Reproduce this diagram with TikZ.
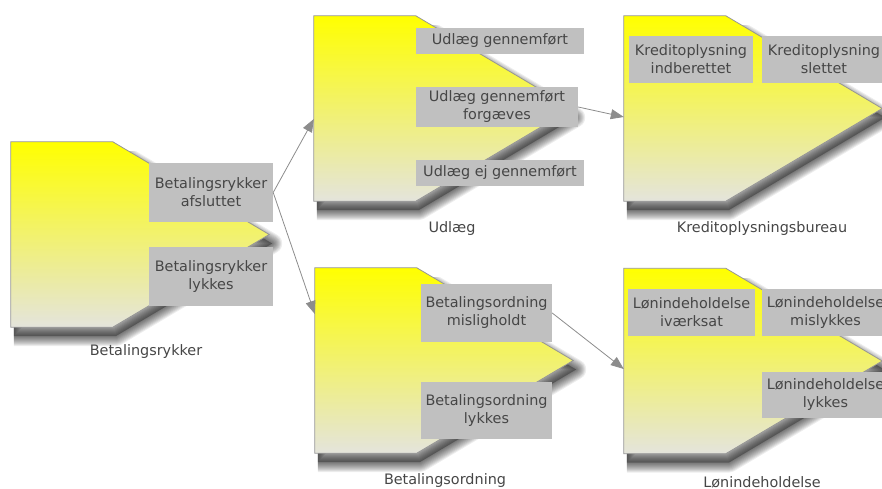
\documentclass[tikz,border=0pt]{standalone}
\usepackage{fontspec}
\setmainfont{DejaVu Sans}
\usetikzlibrary{arrows.meta}

\definecolor{boxgray}{RGB}{192,192,192}
\definecolor{txtgray}{RGB}{70,70,70}
\definecolor{edgegray}{RGB}{150,150,150}
\definecolor{linkgray}{RGB}{140,140,140}
\definecolor{paleend}{RGB}{228,228,220}

% outline of a stage: flat top and bottom, pointed right end
\newcommand\stageoutline[1]{(#1.north west) -- ([xshift=102pt]#1.north west) -- (#1.east) -- ([xshift=102pt]#1.south west) -- (#1.south west) -- cycle}

\begin{document}
\begin{tikzpicture}[x=1pt,y=-1pt,
  frame/.style={minimum width=258pt, minimum height=185pt, inner sep=0pt, draw=none},
  event/.style={fill=boxgray, text=txtgray, align=center, inner sep=0pt,
                font=\fontsize{14.4}{18}\selectfont},
  caption/.style={text=txtgray, font=\fontsize{14.4}{18}\selectfont},
  link/.style={draw=linkgray, line width=0.8pt, -{Triangle[length=13pt,width=10pt]}},
  stage/.style={top color=yellow, bottom color=paleend, draw=edgegray, line width=0.8pt},
]
\useasboundingbox (0,0) rectangle (882,489);
\clip (0,0) rectangle (882,489);

% frames carrying the names of the five stages
\node[frame] (rykker)  at (140,234.5) {};
\node[frame] (udlaeg)  at (443,108.5) {};
\node[frame] (kredit)  at (753,108.5) {};
\node[frame] (ordning) at (444,360.5) {};
\node[frame] (loen)    at (753,361)   {};

% soft drop shadows: one translucent fill plus many thin-stepped translucent
% strokes, kept below the top edge and right of the left edge of each stage
\foreach \n in {rykker,udlaeg,kredit,ordning,loen}{
  \begin{scope}
    \clip ([xshift=3pt,yshift=-10pt]\n.north west) rectangle ([xshift=30pt,yshift=-30pt]\n.south east);
    \begin{scope}[transform canvas={shift={(3pt,-9pt)}}]
      \fill[black, opacity=0.3] \stageoutline{\n};
      \foreach \w in {20,18,...,2}{
        \draw[black, opacity=0.07, line width=\w pt, line join=round] \stageoutline{\n};
      }
    \end{scope}
  \end{scope}
}

% stage bodies
\foreach \n in {rykker,udlaeg,kredit,ordning,loen}{
  \shadedraw[stage] \stageoutline{\n};
}

% events
\node[event, minimum width=124pt, minimum height=59pt] (r1) at (211,192.5) {Betalingsrykker\\afsluttet};
\node[event, minimum width=124pt, minimum height=59pt] (r2) at (211,276.5) {Betalingsrykker\\lykkes};

\node[event, minimum width=168pt, minimum height=26pt] (u1) at (500,41)  {Udlæg gennemført};
\node[event, minimum width=162pt, minimum height=40pt] (u2) at (497,107) {Udlæg gennemført\\forgæves};
\node[event, minimum width=168pt, minimum height=26pt] (u3) at (500,173) {Udlæg ej gennemført};

\node[event, minimum width=124pt, minimum height=47pt] (k1) at (691,59.5) {Kreditoplysning\\indberettet};
\node[event, minimum width=124pt, minimum height=47pt] (k2) at (824,59.5) {Kreditoplysning\\slettet};

\node[event, minimum width=131pt, minimum height=58pt] (o1) at (486.5,313)   {Betalingsordning\\misligholdt};
\node[event, minimum width=131pt, minimum height=57pt] (o2) at (486.5,410.5) {Betalingsordning\\lykkes};

\node[event, minimum width=127pt, minimum height=47pt] (l1) at (691.5,312.5) {Lønindeholdelse\\iværksat};
\node[event, minimum width=127pt, minimum height=47pt] (l2) at (825.5,312.5) {Lønindeholdelse\\mislykkes};
\node[event, minimum width=127pt, minimum height=46pt] (l3) at (825.5,395)   {Lønindeholdelse\\lykkes};

% stage captions
\node[caption] (rykker-cap)  at (146,352) {Betalingsrykker};
\node[caption] (udlaeg-cap)  at (452,229) {Udlæg};
\node[caption] (kredit-cap)  at (762,229) {Kreditoplysningsbureau};
\node[caption] (ordning-cap) at (445,481) {Betalingsordning};
\node[caption] (loen-cap)    at (762,482) {Lønindeholdelse};

% transitions
\draw[link] (r1.east) -- ([yshift=-10.5pt]udlaeg.west);
\draw[link] (r1.east) -- ([yshift=46.5pt]ordning.west);
\draw[link] (u2.east) -- ([yshift=-8.5pt]kredit.west);
\draw[link] (o1.east) -- ([yshift=-8pt]loen.west);
\end{tikzpicture}
\end{document}
